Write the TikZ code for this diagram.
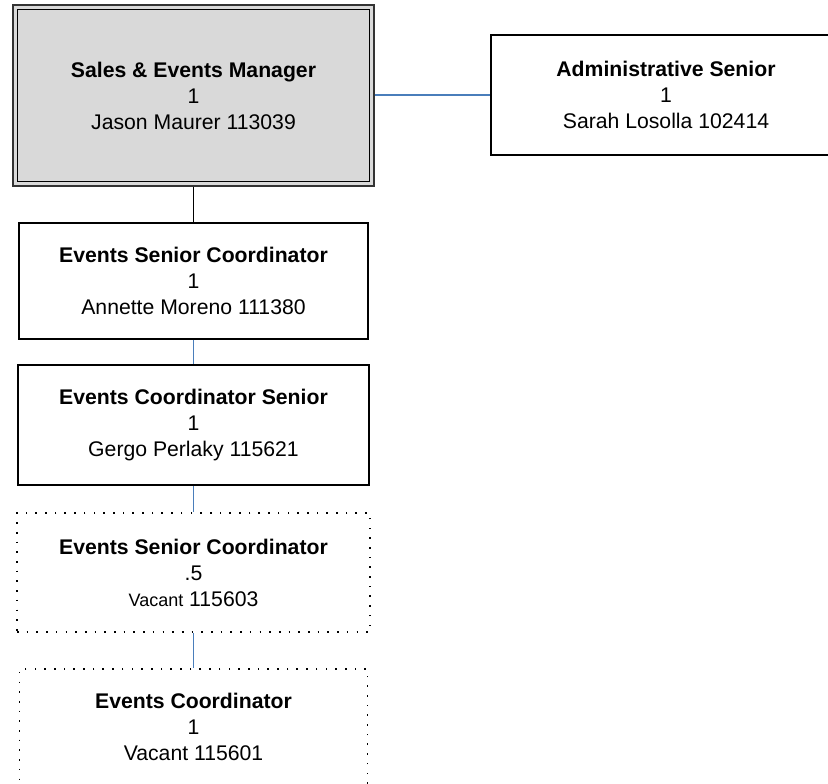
\documentclass[tikz,border=0pt]{standalone}
\usepackage{fontspec}
\setmainfont{Liberation Sans}
\definecolor{conblue}{HTML}{4A7EBB}
\definecolor{boxgray}{HTML}{D9D9D9}
\begin{document}
\begin{tikzpicture}[x=1pt,y=-1pt,
  every node/.style={font=\fontsize{21.2}{26}\selectfont, align=center, inner sep=0pt},
  posbox/.style={draw=black, line width=1.5pt, rectangle},
  vacbox/.style={draw=black, line width=1.6pt, rectangle, dash pattern=on 1.6pt off 8.1pt},
  bluecon/.style={draw=conblue, line width=1.6pt},
  blackcon/.style={draw=black, line width=1.5pt}]
\useasboundingbox (0,0) rectangle (828,784);
% top manager box (double border)
\node[rectangle, fill=boxgray, draw=black!80, line width=1.1pt, minimum width=361pt, minimum height=181pt] (mgr) at (193.5,95.5)
  {\textbf{Sales \& Events Manager}\\1\\Jason Maurer 113039};
\draw[black, line width=1.8pt] ([shift={(5pt,-5pt)}]mgr.north west) rectangle ([shift={(-5pt,5pt)}]mgr.south east);
% administrative
\node[posbox, minimum width=350pt, minimum height=120pt] (adm) at (666,95)
  {\textbf{Administrative Senior}\\1\\Sarah Losolla 102414};
% events senior coordinator
\node[posbox, minimum width=349pt, minimum height=116pt] (esc) at (193.5,281)
  {\textbf{Events Senior Coordinator}\\1\\Annette Moreno 111380};
\node[posbox, minimum width=351pt, minimum height=120pt] (ecs) at (193.5,425)
  {\textbf{Events Coordinator Senior}\\1\\Gergo Perlaky 115621};
\node[vacbox, minimum width=353pt, minimum height=119pt] (vesc) at (193.5,572.5)
  {\textbf{Events Senior Coordinator}\\.5\\{\fontsize{18}{26}\selectfont Vacant} 115603};
\node[vacbox, minimum width=348pt, minimum height=116pt] (vec) at (193.5,727)
  {\textbf{Events Coordinator}\\1\\Vacant 115601};
% connectors
\draw[bluecon] (mgr.east |- adm.west) -- (adm.west);
\draw[blackcon] (mgr.south) -- (esc.north);
\draw[bluecon] (esc.south) -- (ecs.north);
\draw[bluecon] (ecs.south) -- (vesc.north);
\draw[bluecon] (vesc.south) -- (vec.north);
\end{tikzpicture}
\end{document}
